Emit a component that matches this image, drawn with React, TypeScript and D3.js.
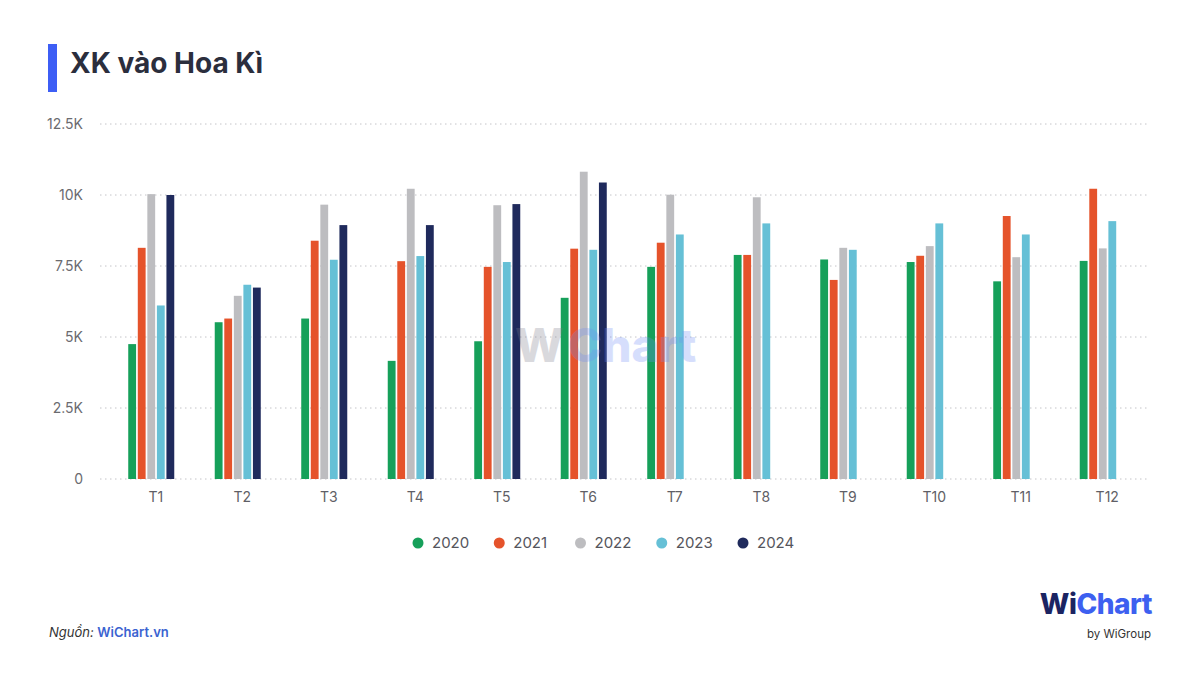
import * as d3 from 'd3'

// số liệu XK vào Hoa Kì theo tháng (đơn vị gốc, trục hiển thị dạng K)
const months = ['T1', 'T2', 'T3', 'T4', 'T5', 'T6', 'T7', 'T8', 'T9', 'T10', 'T11', 'T12']
const years = ['2020', '2021', '2022', '2023', '2024']
const v2020 = [4750, 5520, 5650, 4160, 4850, 6380, 7470, 7890, 7730, 7640, 6960, 7680]
const v2021 = [8140, 5650, 8390, 7670, 7470, 8110, 8320, 7890, 7010, 7860, 9260, 10220]
const v2022 = [10030, 6450, 9660, 10220, 9640, 10820, 10010, 9920, 8140, 8200, 7810, 8120]
const v2023 = [6110, 6840, 7720, 7850, 7640, 8070, 8610, 9000, 8070, 9000, 8610, 9080]
const v2024 = [10000, 6740, 8940, 8940, 9680, 10440, null, null, null, null, null, null]
const yTicks = [0, 2500, 5000, 7500, 10000, 12500]
const colors = ['#16a05a', '#e5532b', '#bdbdc0', '#66c0d6', '#1f2a5c']

const series: (number | null)[][] = [v2020, v2021, v2022, v2023, v2024]

const FONT = 'Inter, "Noto Sans", sans-serif'

const fmtK = (v: number) => (v === 0 ? '0' : `${d3.format('~g')(v / 1000)}K`)

export default function App() {
  const width = 1200
  const height = 695
  const gridLeft = 100
  const gridRight = 1150

  const y = d3.scaleLinear().domain([0, 12500]).range([479, 124])
  const x0 = d3
    .scaleBand<string>()
    .domain(months)
    .range([108, 1146])
    .paddingInner(0.468)
    .paddingOuter(0.234)
  const x1 = d3.scaleBand<string>().domain(years).range([0, x0.bandwidth()]).paddingInner(0.18)

  const legendX = d3.scalePoint<string>().domain(years).range([418, 743])

  return (
    <svg
      width={width}
      height={height}
      style={{ position: 'absolute', left: 0, top: 0, background: '#fff' }}
      fontFamily={FONT}
    >
      <rect width={width} height={height} fill="#fff" />

      {/* title */}
      <rect x={48} y={44} width={9} height={48} fill="#3d5ef5" />
      <text x={70} y={73} fontSize={28} fontWeight={700} fill="#2b2e3d">
        XK vào Hoa Kì
      </text>

      {/* grid + y ticks */}
      {yTicks.map((t) => (
        <g key={t}>
          <line
            x1={gridLeft}
            x2={gridRight}
            y1={y(t)}
            y2={y(t)}
            stroke="#c4c4c8"
            strokeWidth={1}
            strokeDasharray="1.5 3.5"
          />
          <text x={83} y={y(t)} dy="0.35em" textAnchor="end" fontSize={14} fill="#6b6b70">
            {fmtK(t)}
          </text>
        </g>
      ))}

      {/* bars */}
      {months.map((m, i) => (
        <g key={m} transform={`translate(${x0(m)},0)`}>
          {series.map((s, k) => {
            const v = s[i]
            if (v == null) return null
            return (
              <rect
                key={years[k]}
                x={x1(years[k])}
                y={y(v)}
                width={x1.bandwidth()}
                height={y(0) - y(v)}
                fill={colors[k]}
              />
            )
          })}
          <text
            x={x0.bandwidth() / 2 + 4.5}
            y={502}
            textAnchor="middle"
            fontSize={14}
            fill="#5f5f66"
          >
            {m}
          </text>
        </g>
      ))}

      {/* watermark */}
      <g opacity={0.28} fontWeight={800} fontSize={46}>
        <text x={515} y={362} fill="#7a7a88">
          W
        </text>
        <text x={568} y={362} fill="#6f8cf5">
          Chart
        </text>
      </g>

      {/* legend */}
      {years.map((yr, k) => (
        <g key={yr} transform={`translate(${legendX(yr)},543)`}>
          <circle r={5.5} fill={colors[k]} />
          <text x={14} dy="0.35em" fontSize={15} fill="#55555c">
            {yr}
          </text>
        </g>
      ))}

      {/* footer */}
      <text x={49} y={637} fontSize={13}>
        <tspan fill="#333" fontStyle="italic">
          Nguồn:{' '}
        </tspan>
        <tspan fill="#3b63d1" fontWeight={600}>
          WiChart.vn
        </tspan>
      </text>

      {/* logo */}
      <text x={1152} y={614} textAnchor="end" fontSize={28} fontWeight={800} letterSpacing={-0.5}>
        <tspan fill="#1b2462">Wi</tspan>
        <tspan fill="#3d60f0">Chart</tspan>
      </text>
      <text x={1151} y={638} textAnchor="end" fontSize={11.5} fill="#333">
        by WiGroup
      </text>
    </svg>
  )
}
